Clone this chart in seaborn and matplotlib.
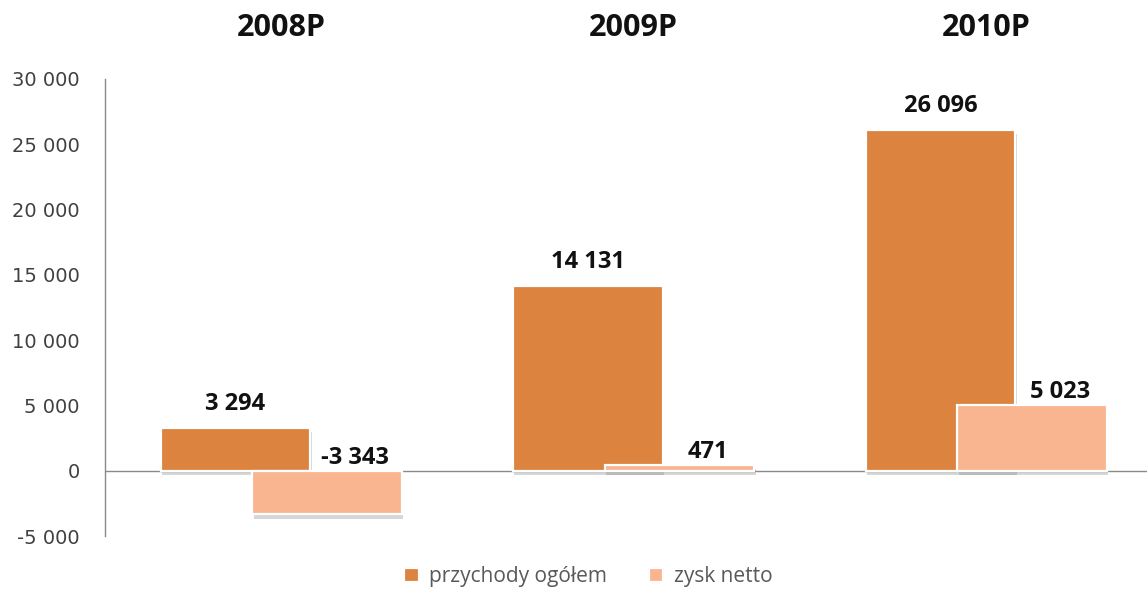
import matplotlib
matplotlib.use("Agg")
import matplotlib.pyplot as plt
import matplotlib.patheffects as pe
from matplotlib.ticker import FuncFormatter
import seaborn as sns
import pandas as pd

# Data (tys. zł)
lata = ["2008P", "2009P", "2010P"]
przychody = [3294, 14131, 26096]
zysk = [-3343, 471, 5023]
serie = ["przychody ogółem", "zysk netto"]
kolory = ["#DB833F", "#F8B58F"]

df = pd.DataFrame({
    "rok": lata * 2,
    "seria": [serie[0]] * len(lata) + [serie[1]] * len(lata),
    "wartosc": przychody + zysk,
})

sns.set_theme(style="white")
plt.rcParams["font.family"] = ["Open Sans", "DejaVu Sans"]

W, H = 1147, 592
fig = plt.figure(figsize=(W / 100, H / 100), dpi=100)
ax = fig.add_axes([105 / W, (H - 536) / H, (W - 105) / W, (536 - 79) / H])

sns.barplot(data=df, x="rok", y="wartosc", hue="seria", palette=kolory,
            saturation=1, dodge=True, width=0.52, edgecolor="white",
            linewidth=1.6, ax=ax, zorder=3)

# widen the bars so that each pair overlaps
bar_w = 0.425
shadow = [pe.SimplePatchShadow(offset=(1, -3), shadow_rgbFace="#7a7a7a", alpha=0.3),
          pe.Normal()]
for cont in ax.containers:
    for p in cont.patches:
        c = p.get_x() + p.get_width() / 2
        p.set_x(c - bar_w / 2)
        p.set_width(bar_w)
        p.set_path_effects(shadow)

ax.set_xlim(-0.5, -0.5 + (W - 105) / 352.5)
ax.set_ylim(-5000, 30000)
ax.set_yticks(range(-5000, 30001, 5000))
ax.yaxis.set_major_formatter(FuncFormatter(lambda v, _: f"{v:,.0f}".replace(",", " ")))
ax.tick_params(axis="y", length=0, pad=18, labelsize=14, labelcolor="#404040")
for lab in ax.get_yticklabels():
    lab.set_fontfamily(["DejaVu Sans"])

# category titles on top
ax.xaxis.tick_top()
ax.tick_params(axis="x", length=0, pad=26, labelsize=22, labelcolor="#111111")
for lab in ax.get_xticklabels():
    lab.set_fontweight("bold")
ax.set_xlabel("")
ax.set_ylabel("")

for s in ["top", "right", "bottom"]:
    ax.spines[s].set_visible(False)
ax.spines["left"].set_color("#8a8a8a")
ax.spines["left"].set_linewidth(1.0)
ax.axhline(0, color="#8a8a8a", lw=1.0, zorder=2)

fmt = lambda v: f"{v:,.0f}".replace(",", " ")
# value labels
for i, p in enumerate(ax.containers[0].patches):
    c = p.get_x() + p.get_width() / 2
    ax.annotate(fmt(przychody[i]), xy=(c, przychody[i]), xytext=(0, 18),
                textcoords="offset pixels", ha="center", va="baseline",
                fontsize=17, fontweight="bold", color="#111111", zorder=5)
for i, p in enumerate(ax.containers[1].patches):
    c = p.get_x() + p.get_width() / 2
    ax.annotate(fmt(zysk[i]), xy=(c, max(zysk[i], 0)), xytext=(28, 7),
                textcoords="offset pixels", ha="center", va="baseline",
                fontsize=17, fontweight="bold", color="#111111", zorder=5)

sns.move_legend(ax, "lower center", bbox_to_anchor=(0.513, -0.013),
                bbox_transform=fig.transFigure, ncol=2, frameon=False,
                title=None, fontsize=15, handlelength=0.7, handleheight=0.7,
                columnspacing=2.0, handletextpad=0.5, labelcolor="#595959",
                borderpad=0.1)

fig.savefig("out.png", dpi=100)
